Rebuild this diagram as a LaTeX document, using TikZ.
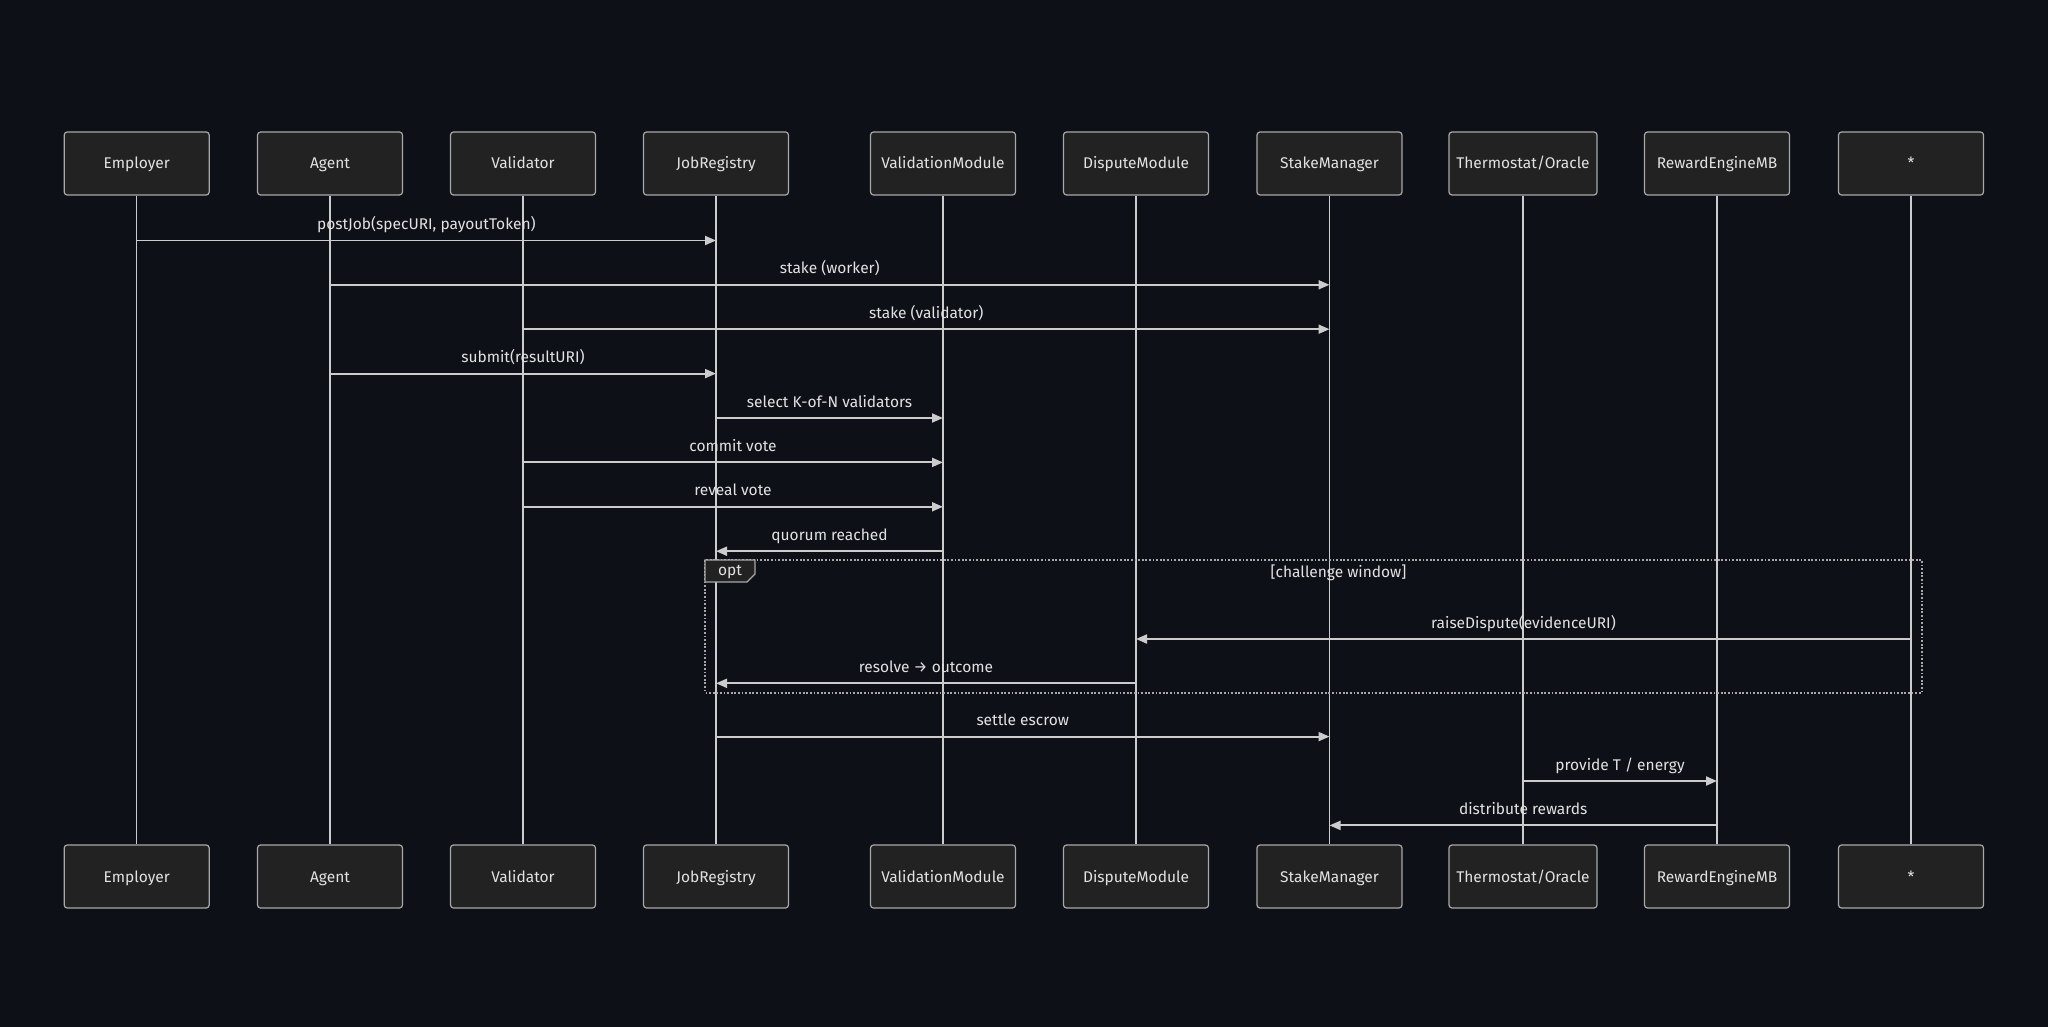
\documentclass[tikz,border=0pt]{standalone}
\usepackage{fontspec}
\setmainfont{Fira Sans}
\usetikzlibrary{arrows.meta, calc}
\definecolor{canvasbg}{HTML}{0D1117}
\definecolor{actorfill}{HTML}{222222}
\definecolor{actorline}{HTML}{A8A8A8}
\definecolor{wireline}{HTML}{CCCCCC}
\definecolor{msgtext}{HTML}{E2E2E2}

\begin{document}
\begin{tikzpicture}[
  x=1pt, y=-1pt,
  every node/.style={font=\fontsize{15.5}{18}\selectfont, text=msgtext},
  actor/.style={
    draw=actorline, fill=actorfill, line width=1.2pt, rounded corners=3pt,
    minimum width=145pt, minimum height=63pt, inner sep=0pt,
    text height=11pt, text depth=0pt
  },
  lifeline/.style={wireline, line width=1.5pt},
  msg/.style={-{Triangle[length=11pt, width=9pt]}, wireline, line width=1.9pt},
  msglabel/.style={anchor=base, yshift=11pt, inner sep=0pt},
  optframe/.style={actorline, line width=1.8pt, dash pattern=on 1.8pt off 1.8pt}
]

% canvas
\fill[canvasbg] (0,0) rectangle (2048,1027);
\useasboundingbox (0,0) rectangle (2048,1027);

% actors (top row)
\node[actor] (emp-top)    at (136.7,163.5) {Employer};
\node[actor] (agent-top)  at (330,163.5)   {Agent};
\node[actor] (valid-top)  at (523,163.5)   {Validator};
\node[actor] (jobreg-top) at (716,163.5)   {JobRegistry};
\node[actor] (valmod-top) at (943,163.5)   {ValidationModule};
\node[actor] (dispmod-top) at (1136,163.5) {DisputeModule};
\node[actor] (stake-top)  at (1329.5,163.5) {StakeManager};
\node[actor, minimum width=148pt] (thermo-top) at (1523,163.5) {Thermostat/Oracle};
\node[actor] (reward-top) at (1717,163.5)  {RewardEngineMB};
\node[actor] (star-top)   at (1911,163.5)  {*};

% actors (bottom row)
\node[actor] (emp-bot)    at (136.7,876.5) {Employer};
\node[actor] (agent-bot)  at (330,876.5)   {Agent};
\node[actor] (valid-bot)  at (523,876.5)   {Validator};
\node[actor] (jobreg-bot) at (716,876.5)   {JobRegistry};
\node[actor] (valmod-bot) at (943,876.5)   {ValidationModule};
\node[actor] (dispmod-bot) at (1136,876.5) {DisputeModule};
\node[actor] (stake-bot)  at (1329.5,876.5) {StakeManager};
\node[actor, minimum width=148pt] (thermo-bot) at (1523,876.5) {Thermostat/Oracle};
\node[actor] (reward-bot) at (1717,876.5)  {RewardEngineMB};
\node[actor] (star-bot)   at (1911,876.5)  {*};

% lifelines
\draw[lifeline] (emp-top.south) -- (emp-bot.north);
\draw[lifeline] (agent-top.south) -- (agent-bot.north);
\draw[lifeline] (valid-top.south) -- (valid-bot.north);
\draw[lifeline] (jobreg-top.south) -- (jobreg-bot.north);
\draw[lifeline] (valmod-top.south) -- (valmod-bot.north);
\draw[lifeline] (dispmod-top.south) -- (dispmod-bot.north);
\draw[lifeline] (stake-top.south) -- (stake-bot.north);
\draw[lifeline] (thermo-top.south) -- (thermo-bot.north);
\draw[lifeline] (reward-top.south) -- (reward-bot.north);
\draw[lifeline] (star-top.south) -- (star-bot.north);

% opt frame (challenge window)
\coordinate (opt-nw) at ([xshift=-11pt] jobreg-top |- 0,560);
\coordinate (opt-se) at ([xshift=11pt] star-top |- 0,692.7);
\draw[optframe] (opt-nw) rectangle (opt-se);
\draw[actorline, fill=actorfill, line width=1.2pt]
  (opt-nw) -- ++(50,0) -- ++(0,14) -- ++(-8,8) -- ++(-42,0) -- cycle;
\node (opt-tag) at ($(opt-nw)+(25,12.5)$) {opt};
\node (opt-cond) at ($(opt-nw)!0.5!(opt-se |- opt-nw)+(25,12.5)$) {[challenge window]};

% messages
\draw[msg] (emp-top |- 0,240.5) -- node[msglabel] {postJob(specURI, payoutToken)} (jobreg-top |- 0,240.5);
\draw[msg] (agent-top |- 0,284.8) -- node[msglabel] {stake (worker)} (stake-top |- 0,284.8);
\draw[msg] (valid-top |- 0,329.2) -- node[msglabel] {stake (validator)} (stake-top |- 0,329.2);
\draw[msg] (agent-top |- 0,373.6) -- node[msglabel] {submit(resultURI)} (jobreg-top |- 0,373.6);
\draw[msg] (jobreg-top |- 0,418) -- node[msglabel] {select K-of-N validators} (valmod-top |- 0,418);
\draw[msg] (valid-top |- 0,462.4) -- node[msglabel] {commit vote} (valmod-top |- 0,462.4);
\draw[msg] (valid-top |- 0,506.8) -- node[msglabel] {reveal vote} (valmod-top |- 0,506.8);
\draw[msg] (valmod-top |- 0,551.2) -- node[msglabel] {quorum reached} (jobreg-top |- 0,551.2);
\draw[msg] (star-top |- 0,639) -- node[msglabel] {raiseDispute(evidenceURI)} (dispmod-top |- 0,639);
\draw[msg] (dispmod-top |- 0,683.3) -- node[msglabel] {resolve → outcome} (jobreg-top |- 0,683.3);
\draw[msg] (jobreg-top |- 0,736.6) -- node[msglabel] {settle escrow} (stake-top |- 0,736.6);
\draw[msg] (thermo-top |- 0,781) -- node[msglabel] {provide T / energy} (reward-top |- 0,781);
\draw[msg] (reward-top |- 0,825.4) -- node[msglabel] {distribute rewards} (stake-top |- 0,825.4);

\end{tikzpicture}
\end{document}
